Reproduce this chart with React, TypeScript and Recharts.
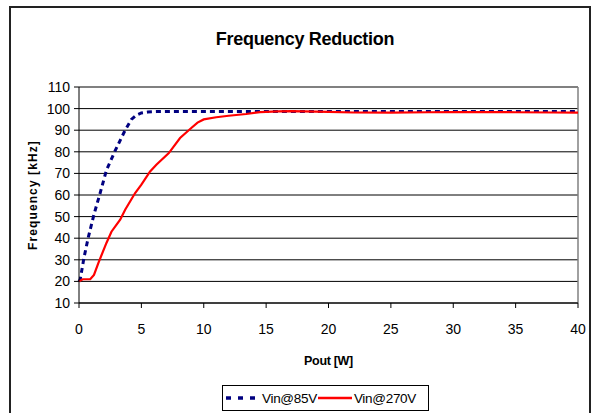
import React from 'react';
import { LineChart, Line, XAxis, YAxis, CartesianGrid, ReferenceLine, Legend, Label } from 'recharts';

const title = 'Frequency Reduction';
const xLabel = 'Pout [W]';
const yLabel = 'Frequency [kHz]';
const xTicks = [0, 5, 10, 15, 20, 25, 30, 35, 40];
const yTicks = [10, 20, 30, 40, 50, 60, 70, 80, 90, 100, 110];

const vin85X = [0, 0.1, 0.4, 0.75, 1.2, 1.7, 2.2, 2.9, 3.4, 3.7, 4.2, 4.6, 5.0, 5.5, 6.2, 8, 10, 15, 20, 25, 30, 35, 40];
const vin85Y = [20, 21, 31, 40.5, 51, 61, 71.5, 80.5, 86.5, 90, 95, 97, 98, 98.4, 98.6, 98.7, 98.7, 98.7, 98.7, 98.7, 98.7, 98.7, 98.7];

const vin270X = [0, 0.3, 0.9, 1.2, 1.55, 2.2, 2.6, 3.3, 3.7, 4.5, 5.0, 5.7, 6.2, 7.2, 8.1, 9.0, 9.5, 10, 11, 12, 13.4, 14.5, 16, 17, 20, 22, 25, 28, 30, 33, 35, 38, 40];
const vin270Y = [20, 21, 21, 23, 28.5, 37.8, 43, 48.6, 53.2, 60.9, 64.8, 70.9, 74, 79.4, 86.4, 91, 93.5, 95, 96, 96.7, 97.5, 98.4, 98.7, 98.8, 98.5, 98.2, 98.1, 98.3, 98.4, 98.4, 98.3, 98.2, 98.1];

const series = [
  { name: 'Vin@85V', xs: vin85X, ys: vin85Y, color: '#000080', dash: '5 4', width: 3, legendDash: '5 7', legendWidth: 3.5 },
  { name: 'Vin@270V', xs: vin270X, ys: vin270Y, color: '#FF0000', dash: undefined, width: 2.2, legendDash: undefined, legendWidth: 2.5 },
];

const FONT = '"Liberation Sans", Arial, sans-serif';

const LegendBox = (props: any) => {
  const payload = (props.payload || []).slice().sort(
    (a: any, b: any) => series.findIndex((s) => s.name === a.value) - series.findIndex((s) => s.name === b.value)
  );
  return (
    <div
      style={{
        border: '1px solid #000',
        boxSizing: 'border-box',
        width: 207,
        height: 26,
        display: 'flex',
        alignItems: 'center',
        paddingLeft: 2,
        fontFamily: FONT,
        fontSize: 13.5,
        color: '#000',
        background: '#fff',
      }}
    >
      {payload.map((p: any, i: number) => {
        const s = series.find((q) => q.name === p.value);
        return (
          <div key={i} style={{ display: 'flex', alignItems: 'center' }}>
            <svg width={36} height={10} style={{ display: 'block' }}>
              <line
                x1={1}
                y1={5}
                x2={35}
                y2={5}
                stroke={p.color}
                strokeWidth={s ? s.legendWidth : 2.5}
                strokeDasharray={s ? s.legendDash : undefined}
              />
            </svg>
            <span style={{ marginLeft: 1, letterSpacing: -0.3 }}>{p.value}</span>
          </div>
        );
      })}
    </div>
  );
};

export default function App() {
  return (
    <div style={{ position: 'absolute', left: 0, top: 0, width: 595, height: 413, overflow: 'hidden', background: '#fff' }}>
      <div
        style={{
          position: 'absolute',
          left: 9,
          top: 6,
          width: 582,
          height: 430,
          border: '2px solid #222',
          boxSizing: 'border-box',
        }}
      />
      <svg width={595} height={60} style={{ position: 'absolute', left: 0, top: 0 }}>
        <text x={305} y={45} textAnchor="middle" fontFamily={FONT} fontWeight="bold" fontSize={18} fill="#000" letterSpacing={-0.3}>
          {title}
        </text>
      </svg>
      <div style={{ position: 'absolute', left: 0, top: 0 }}>
        <LineChart width={595} height={413} margin={{ top: 87, right: 17, bottom: 0, left: 0 }}>
          <CartesianGrid horizontal={true} vertical={false} stroke="#000" strokeWidth={1} />
          <XAxis
            type="number"
            dataKey="x"
            domain={[0, 40]}
            ticks={xTicks}
            allowDuplicatedCategory={false}
            height={110}
            tickSize={5}
            tickMargin={16}
            stroke="#000"
            tick={{ fill: '#000', fontSize: 14, fontFamily: FONT }}
            tickLine={{ stroke: '#000' }}
            axisLine={{ stroke: '#000' }}
            interval={0}
          >
            <Label
              content={(p: any) => {
                const vb = p.viewBox;
                return (
                  <text x={vb.x + vb.width / 2} y={vb.y + 62} textAnchor="middle" fontFamily={FONT} fontWeight="bold" fontSize={12.5} fill="#000" letterSpacing={-0.3}>
                    {xLabel}
                  </text>
                );
              }}
            />
          </XAxis>
          <YAxis
            type="number"
            domain={[10, 110]}
            ticks={yTicks}
            width={79}
            tickSize={5}
            tickMargin={4}
            stroke="#000"
            tick={{ fill: '#000', fontSize: 14, fontFamily: FONT }}
            tickLine={{ stroke: '#000' }}
            axisLine={{ stroke: '#000' }}
            interval={0}
          >
            <Label
              content={(p: any) => {
                const vb = p.viewBox;
                const cx = vb.x + 33;
                const cy = vb.y + vb.height / 2;
                return (
                  <text
                    x={cx}
                    y={cy}
                    transform={`rotate(-90, ${cx}, ${cy})`}
                    textAnchor="middle"
                    dominantBaseline="central"
                    fontFamily={FONT}
                    fontWeight="bold"
                    fontSize={12}
                    letterSpacing={1.1}
                    fill="#000"
                  >
                    {yLabel}
                  </text>
                );
              }}
            />
          </YAxis>
          <ReferenceLine y={110} stroke="#808080" strokeWidth={1.5} />
          <ReferenceLine x={40} stroke="#808080" strokeWidth={1.5} />
          {series.map((s) => (
            <Line
              key={s.name}
              name={s.name}
              data={s.xs.map((x, i) => ({ x, y: s.ys[i] }))}
              dataKey="y"
              type="linear"
              stroke={s.color}
              strokeWidth={s.width}
              strokeDasharray={s.dash}
              dot={false}
              activeDot={false}
              isAnimationActive={false}
            />
          ))}
          <Legend
            layout="vertical"
            align="center"
            verticalAlign="middle"
            content={<LegendBox />}
            wrapperStyle={{ position: 'absolute', left: 222, top: 385, width: 208, height: 26 }}
          />
        </LineChart>
      </div>
    </div>
  );
}
